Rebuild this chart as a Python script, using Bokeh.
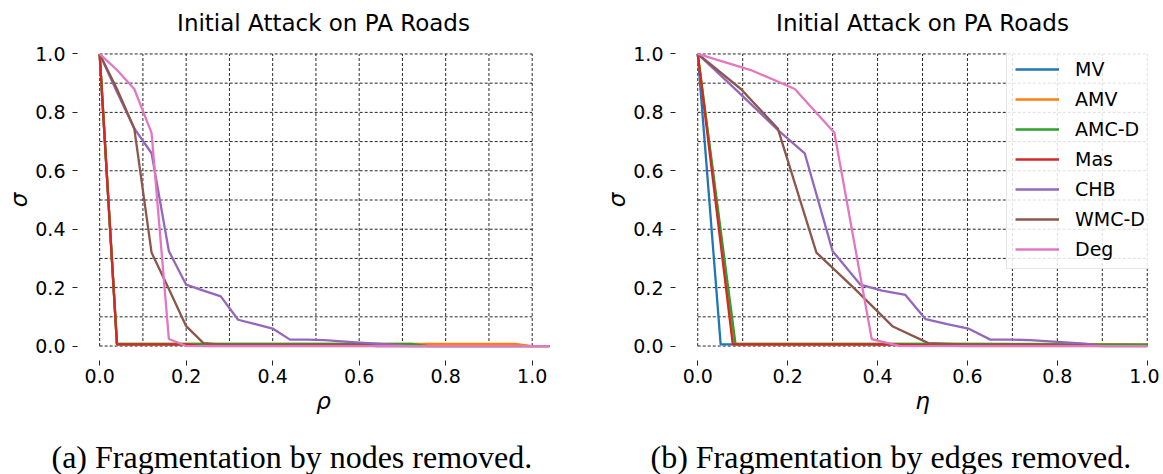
from bokeh.plotting import figure
from bokeh.layouts import row, column
from bokeh.models import FixedTicker, Label, Legend, LegendItem, Range1d, NumeralTickFormatter
from bokeh.embed import file_html
from bokeh.resources import INLINE

SERIES = ["MV", "AMV", "AMC-D", "Mas", "CHB", "WMC-D", "Deg"]
COLORS = ["#1f77b4", "#ff7f0e", "#2ca02c", "#d62728", "#9467bd", "#8c564b", "#e377c2"]

TITLE = "Initial Attack on PA Roads"
CAPTION_A = "(a) Fragmentation by nodes removed."
CAPTION_B = "(b) Fragmentation by edges removed."

AXIS_TICKS = [0.0, 0.2, 0.4, 0.6, 0.8, 1.0]
GRID_TICKS = [0.0, 0.1, 0.2, 0.3, 0.4, 0.5, 0.6, 0.7, 0.8, 0.9, 1.0]
GRID_LO, GRID_HI = 0.0, 1.0

# ---- (a) nodes removed: fraction rho ----
RHO = [0.00, 0.04, 0.08, 0.12, 0.16, 0.20, 0.24, 0.28, 0.32, 0.36, 0.40, 0.44, 0.48,
       0.52, 0.56, 0.60, 0.64, 0.68, 0.72, 0.76, 0.80, 0.84, 0.88, 0.92, 0.96, 1.00, 1.04]
MV_N = [1.0, 0.006, 0.006, 0.006, 0.006, 0.006, 0.006, 0.006, 0.006, 0.006, 0.006, 0.006, 0.006,
        0.006, 0.006, 0.006, 0.0, 0.0, 0.0, 0.0, 0.0, 0.0, 0.0, 0.0, 0.0, 0.0, 0.0]
AMV_N = [1.0, 0.007, 0.007, 0.007, 0.007, 0.007, 0.007, 0.007, 0.007, 0.007, 0.007, 0.007, 0.007,
         0.007, 0.007, 0.007, 0.007, 0.007, 0.007, 0.007, 0.007, 0.007, 0.007, 0.007, 0.007, 0.0, 0.0]
AMCD_N = [1.0, 0.007, 0.007, 0.007, 0.007, 0.007, 0.007, 0.007, 0.007, 0.007, 0.007, 0.007, 0.007,
          0.007, 0.007, 0.007, 0.007, 0.007, 0.007, 0.0, 0.0, 0.0, 0.0, 0.0, 0.0, 0.0, 0.0]
MAS_N = [1.0, 0.006, 0.006, 0.006, 0.006, 0.006, 0.0, 0.0, 0.0, 0.0, 0.0, 0.0, 0.0,
         0.0, 0.0, 0.0, 0.0, 0.0, 0.0, 0.0, 0.0, 0.0, 0.0, 0.0, 0.0, 0.0, 0.0]
CHB_N = [1.0, 0.87, 0.745, 0.66, 0.325, 0.21, 0.19, 0.17, 0.09, 0.075, 0.06, 0.022, 0.022,
         0.02, 0.016, 0.012, 0.008, 0.004, 0.0, 0.0, 0.0, 0.0, 0.0, 0.0, 0.0, 0.0, 0.0]
WMCD_N = [1.0, 0.88, 0.745, 0.32, 0.195, 0.068, 0.01, 0.005, 0.005, 0.005, 0.005, 0.005, 0.005,
          0.005, 0.005, 0.005, 0.0, 0.0, 0.0, 0.0, 0.0, 0.0, 0.0, 0.0, 0.0, 0.0, 0.0]
DEG_N = [1.0, 0.945, 0.88, 0.73, 0.024, 0.0, 0.0, 0.0, 0.0, 0.0, 0.0, 0.0, 0.0,
         0.0, 0.0, 0.0, 0.0, 0.0, 0.0, 0.0, 0.0, 0.0, 0.0, 0.0, 0.0, 0.0, 0.0]

# ---- (b) edges removed: fraction eta ----
MV_EX = [0.0, 0.051, 0.2, 0.4, 0.6, 0.8, 1.0]
MV_E = [1.0, 0.006, 0.006, 0.006, 0.006, 0.005, 0.004]
AMV_EX = [0.0, 0.082, 0.2, 0.4, 0.6, 0.8, 1.0]
AMV_E = [1.0, 0.007, 0.007, 0.007, 0.007, 0.007, 0.006]
AMCD_EX = [0.0, 0.084, 0.2, 0.4, 0.6, 0.8, 1.0]
AMCD_E = [1.0, 0.007, 0.007, 0.007, 0.007, 0.006, 0.005]
MAS_EX = [0.0, 0.078, 0.2, 0.4, 0.6, 0.8, 1.0]
MAS_E = [1.0, 0.006, 0.006, 0.006, 0.0, 0.0, 0.0]
CHB_EX = [0.0, 0.09, 0.178, 0.238, 0.30, 0.362, 0.41, 0.462, 0.507, 0.555, 0.602, 0.651,
          0.70, 0.74, 0.80, 0.86, 0.90, 1.0]
CHB_E = [1.0, 0.87, 0.74, 0.66, 0.325, 0.21, 0.19, 0.175, 0.092, 0.075, 0.06, 0.022,
         0.022, 0.02, 0.014, 0.008, 0.0, 0.0]
WMCD_EX = [0.0, 0.096, 0.178, 0.264, 0.35, 0.433, 0.513, 0.6, 0.7, 0.8, 0.9, 1.0]
WMCD_E = [1.0, 0.88, 0.745, 0.32, 0.195, 0.068, 0.01, 0.005, 0.005, 0.004, 0.0, 0.0]
DEG_EX = [0.0, 0.118, 0.216, 0.304, 0.387, 0.45, 0.6, 0.8, 1.0]
DEG_E = [1.0, 0.945, 0.88, 0.73, 0.024, 0.0, 0.0, 0.0, 0.0]

NODE_DATA = [(RHO, MV_N), (RHO, AMV_N), (RHO, AMCD_N), (RHO, MAS_N),
             (RHO, CHB_N), (RHO, WMCD_N), (RHO, DEG_N)]
EDGE_DATA = [(MV_EX, MV_E), (AMV_EX, AMV_E), (AMCD_EX, AMCD_E), (MAS_EX, MAS_E),
             (CHB_EX, CHB_E), (WMCD_EX, WMCD_E), (DEG_EX, DEG_E)]

FONT = "DejaVu Sans"
Y_START, Y_END = -0.005, 1.005
FRAME_H = 295
TOP_H = 40        # strip holding the titles
MAIN_TOP = 12
MAIN_BOTTOM = 83
CAP_H = 44        # strip holding the captions

# geometry of the two panels (left border, frame width, right border)
L_MBL, L_FW, L_MBR = 97, 452, 49
R_MBL, R_FW, R_MBR = 97, 454, 10
L_W = L_MBL + L_FW + L_MBR
R_W = R_MBL + R_FW + R_MBR
FULL_W = L_W + R_W


def text_strip(height):
    s = figure(output_backend="svg", toolbar_location=None,
               width=FULL_W, height=height, min_border=0,
               x_range=Range1d(0, FULL_W), y_range=Range1d(0, height),
               x_axis_type=None, y_axis_type=None)
    s.outline_line_color = None
    s.background_fill_color = "white"
    s.border_fill_color = "white"
    return s


def make_fig(x_range, frame_w, mbl, mbr, xlabel):
    x0, x1 = x_range
    p = figure(output_backend="svg", toolbar_location=None,
               x_range=Range1d(x0, x1), y_range=Range1d(Y_START, Y_END),
               frame_width=frame_w, frame_height=FRAME_H,
               min_border_left=mbl, min_border_right=mbr,
               min_border_top=MAIN_TOP, min_border_bottom=MAIN_BOTTOM)
    p.outline_line_color = None
    p.background_fill_color = "white"
    p.border_fill_color = "white"
    p.xgrid.visible = False
    p.ygrid.visible = False

    n = len(GRID_TICKS)
    p.segment(x0=GRID_TICKS, y0=[GRID_LO] * n, x1=GRID_TICKS, y1=[GRID_HI] * n,
              line_color="black", line_alpha=0.85, line_width=1, line_dash="3 2")
    p.segment(x0=[GRID_LO] * n, y0=GRID_TICKS, x1=[GRID_HI] * n, y1=GRID_TICKS,
              line_color="black", line_alpha=0.85, line_width=1, line_dash="3 2")

    for ax in (p.xaxis[0], p.yaxis[0]):
        ax.ticker = FixedTicker(ticks=AXIS_TICKS)
        ax.formatter = NumeralTickFormatter(format="0.0")
        ax.axis_line_color = None
        ax.minor_tick_line_color = None
        ax.major_tick_line_color = "#222222"
        ax.major_tick_line_width = 1
        ax.major_label_text_font = FONT
        ax.major_label_text_font_size = "19px"
        ax.major_label_text_color = "black"
        ax.axis_label_text_font = FONT
        ax.axis_label_text_font_size = "23px"
        ax.axis_label_text_font_style = "italic"
        ax.axis_label_text_color = "black"

    p.xaxis[0].major_tick_in = -13
    p.xaxis[0].major_tick_out = 18
    p.xaxis[0].major_label_standoff = 3
    p.xaxis[0].axis_label = xlabel
    p.xaxis[0].axis_label_standoff = 2

    p.yaxis[0].major_tick_in = -20
    p.yaxis[0].major_tick_out = 25
    p.yaxis[0].major_label_standoff = 7
    p.yaxis[0].axis_label = "σ"
    p.yaxis[0].axis_label_standoff = 0
    return p


p1 = make_fig((-0.005, 1.04), L_FW, L_MBL, L_MBR, "ρ")
p2 = make_fig((-0.005, 1.005), R_FW, R_MBL, R_MBR, "η")

for (x, y), c in zip(NODE_DATA, COLORS):
    p1.line(x, y, line_color=c, line_width=2.3)

items = []
for (x, y), c, name in zip(EDGE_DATA, COLORS, SERIES):
    r = p2.line(x, y, line_color=c, line_width=2.3)
    items.append(LegendItem(label=name, renderers=[r]))

legend = Legend(items=items, location=(311, 78),
                label_text_font=FONT, label_text_font_size="19px", label_text_color="black",
                glyph_width=44, glyph_height=20, label_height=20, label_width=76,
                label_standoff=16, spacing=8, padding=8, margin=0,
                border_line_color="#cccccc", border_line_width=1,
                background_fill_color="white", background_fill_alpha=0.85)
p2.add_layout(legend)

# titles, centred over each frame
top = text_strip(TOP_H)
for cx in (L_MBL + L_FW / 2, L_W + R_MBL + R_FW / 2):
    top.add_layout(Label(x=cx, y=TOP_H - 22, text=TITLE, text_font=FONT,
                         text_font_size="23px", text_color="black",
                         text_align="center", text_baseline="middle"))

# captions below each panel
cap = text_strip(CAP_H)
for cx, txt in ((51, CAPTION_A), (L_W + 52, CAPTION_B)):
    cap.add_layout(Label(x=cx, y=CAP_H - 26, text=txt, text_font="Liberation Serif",
                         text_font_size="32px", text_color="black",
                         text_align="left", text_baseline="middle"))

layout = column(top, row(p1, p2), cap)

with open("out.html", "w") as f:
    f.write(file_html(layout, INLINE))
